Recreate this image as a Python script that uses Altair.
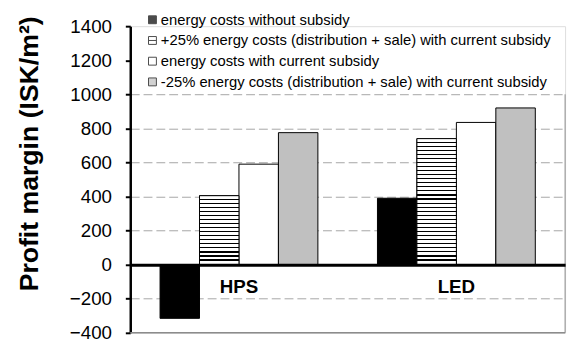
import altair as alt
import pandas as pd

categories = ["HPS", "LED"]
series = [
    "energy costs without subsidy",
    "+25% energy costs (distribution + sale) with current subsidy",
    "energy costs with current subsidy",
    "-25% energy costs (distribution + sale) with current subsidy",
]
without_subsidy = [-315, 390]
plus25 = [405, 740]
current = [590, 835]
minus25 = [775, 920]
y_ticks = [-400, -200, 0, 200, 400, 600, 800, 1000, 1200, 1400]

fills = ["#000000", "#ffffff", "#ffffff", "#c0c0c0"]
sq = "M-1,-1H1V1H-1Z"
striped_sym = "M-1,-1H1V1H-1ZM-1,0H1"
shapes = [sq, striped_sym, sq, sq]

rows = []
for s, vals in zip(series, [without_subsidy, plus25, current, minus25]):
    for c, v in zip(categories, vals):
        rows.append({"cat": c, "series": s, "value": v})
df = pd.DataFrame(rows)

FONT = "Liberation Sans"

x_enc = alt.X(
    "cat:N",
    scale=alt.Scale(domain=categories, paddingInner=0.274, paddingOuter=0.137),
    axis=alt.Axis(
        title=None, orient="bottom", offset=-69, domainColor="black", domainWidth=3,
        ticks=False, labelFont=FONT, labelFontSize=19, labelFontWeight="bold",
        labelColor="black", labelPadding=13, labelAngle=0, grid=False, zindex=1,
    ),
)
xoff_enc = alt.XOffset("series:N", scale=alt.Scale(domain=series, paddingInner=0, paddingOuter=0))
y_scale = alt.Scale(domain=[-400, 1400], nice=False, zero=False)
y_axis = alt.Axis(
    values=y_ticks, format="d", title="Profit margin (ISK/m²)", titleFont=FONT, titleFontSize=27,
    titleFontWeight="bold", titleColor="black", titleX=-94, titleY=129, titleAngle=270,
    titleBaseline="alphabetic", titleAlign="center",
    labelFont=FONT, labelFontSize=19, labelColor="black", labelPadding=14,
    labelFlush=False, labelOverlap=False,
    tickSize=5, tickWidth=2, tickColor="black", domainColor="black", domainWidth=2.5,
    grid=True,
    gridColor={"condition": {"test": "datum.value > 1000 || datum.value === 0 || datum.value === -400",
                             "value": "transparent"}, "value": "#a6a6a6"},
    gridDash=[9, 4],
    gridWidth=1,
)
y_enc = alt.Y("value:Q", scale=y_scale, axis=y_axis)

legend = alt.Legend(
    title=None, orient="none", legendX=15, legendY=-14, labelFont=FONT, labelFontSize=15,
    labelColor="black", labelLimit=0, symbolSize=64, symbolStrokeColor="black",
    symbolStrokeWidth=1, rowPadding=5, labelOffset=1, padding=0,
)
color_enc = alt.Color("series:N", scale=alt.Scale(domain=series, range=fills), legend=legend)

base = alt.Chart(df)

bars = base.mark_bar(stroke="black", strokeWidth=1).encode(
    x=x_enc, xOffset=xoff_enc, y=y_enc, color=color_enc
)


def stripe_gradient(n):
    stops = []
    for k in range(n):
        stops += [
            alt.GradientStop(offset=k / n, color="white"),
            alt.GradientStop(offset=(k + 0.72) / n, color="white"),
            alt.GradientStop(offset=(k + 0.72) / n, color="black"),
            alt.GradientStop(offset=(k + 1) / n, color="black"),
        ]
    return alt.LinearGradient(gradient="linear", stops=stops, x1=0, x2=0, y1=0, y2=1)


stripes_hps = base.transform_filter(
    (alt.datum.series == series[1]) & (alt.datum.cat == "HPS")
).mark_bar(color=stripe_gradient(17), stroke="black", strokeWidth=1).encode(
    x=x_enc, xOffset=xoff_enc, y=y_enc
)
stripes_led = base.transform_filter(
    (alt.datum.series == series[1]) & (alt.datum.cat == "LED")
).mark_bar(color=stripe_gradient(31), stroke="black", strokeWidth=1).encode(
    x=x_enc, xOffset=xoff_enc, y=y_enc
)

legend_pts = base.mark_point(filled=True, clip=True, size=64, stroke="black", strokeWidth=1).encode(
    x=x_enc, xOffset=xoff_enc, y=alt.value(-1000), color=color_enc,
    shape=alt.Shape("series:N", scale=alt.Scale(domain=series, range=shapes), legend=legend),
)

border_top = [1000]
border_bottom = [-400]
border_right = alt.Chart(pd.DataFrame({"value": border_top, "value2": border_bottom})).mark_rule(
    color="#8c8c8c", strokeWidth=1
).encode(x=alt.value(441), y=y_enc, y2="value2:Q")
border_base = alt.Chart(pd.DataFrame({"value": border_bottom})).mark_rule(
    color="#8c8c8c", strokeWidth=1.5
).encode(x=alt.value(0), x2=alt.value(441), y=y_enc)

chart = alt.layer(bars, stripes_hps, stripes_led, legend_pts, border_right, border_base).properties(
    width=441, height=311,
    autosize=alt.AutoSizeParams(type="none"),
    padding={"left": 124, "top": 16, "right": 6, "bottom": 16},
).configure_view(stroke=None).configure(font=FONT)

chart.save("out.html", embed_options={"renderer": "svg", "actions": False})
